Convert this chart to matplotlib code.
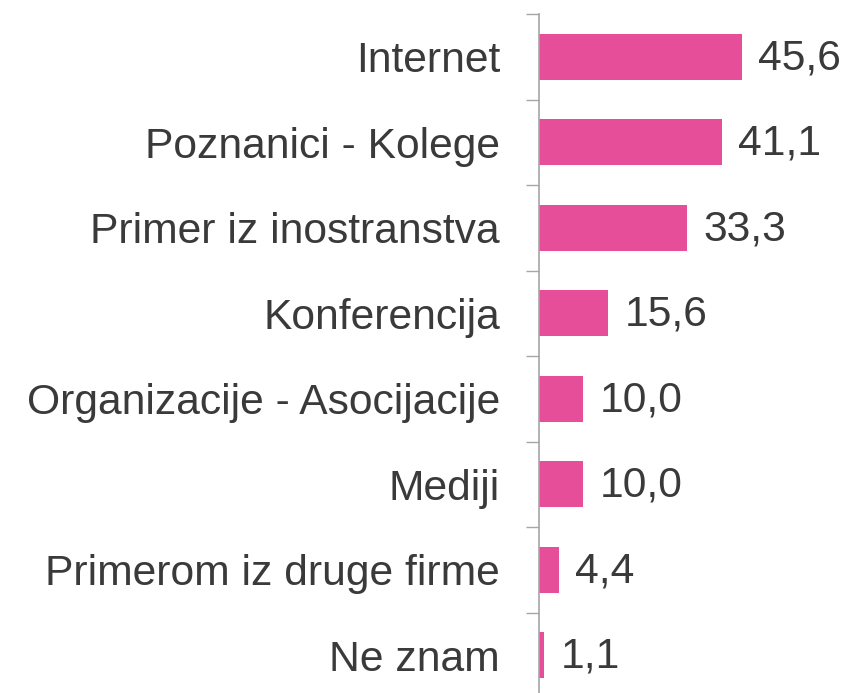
import matplotlib
matplotlib.use("Agg")
import matplotlib.pyplot as plt

# Podaci
kategorije = [
    "Internet",
    "Poznanici - Kolege",
    "Primer iz inostranstva",
    "Konferencija",
    "Organizacije - Asocijacije",
    "Mediji",
    "Primerom iz druge firme",
    "Ne znam",
]
vrednosti = [45.6, 41.1, 33.3, 15.6, 10.0, 10.0, 4.4, 1.1]

BOJA = "#E64E9A"
TEKST = "#3A3A3A"
OSA = "#A6A6A6"

plt.rcParams["font.family"] = ["Liberation Sans", "DejaVu Sans"]

fig = plt.figure(figsize=(8.45, 6.93), dpi=100)
W, H = 845, 693
x0, top, bottom = 539, 14, 698
ax = fig.add_axes([x0 / W, (H - bottom) / H, (W - x0) / W, (bottom - top) / H])

pozicije = list(range(len(kategorije)))
ax.barh(pozicije, vrednosti, height=0.54, color=BOJA)
ax.set_ylim(len(kategorije) - 0.5, -0.5)
ax.set_xlim(0, 68.8)

for y, v in zip(pozicije, vrednosti):
    ax.annotate(f"{v:.1f}".replace(".", ","), (v, y), xytext=(12, -1),
                textcoords="offset points", va="center", ha="left",
                fontsize=30.7, color=TEKST)

ax.set_yticks(pozicije)
ax.set_yticklabels(kategorije, fontsize=30.7, color=TEKST)
ax.set_yticks([p - 0.5 for p in pozicije] + [len(kategorije) - 0.5], minor=True)
ax.tick_params(axis="y", which="major", length=0, pad=28)
ax.tick_params(axis="y", which="minor", length=9.4, width=1, color=OSA)
ax.set_xticks([])

for s in ["top", "right", "bottom"]:
    ax.spines[s].set_visible(False)
ax.spines["left"].set_color(OSA)
ax.spines["left"].set_linewidth(1.2)

fig.savefig("out.png", dpi=100)
